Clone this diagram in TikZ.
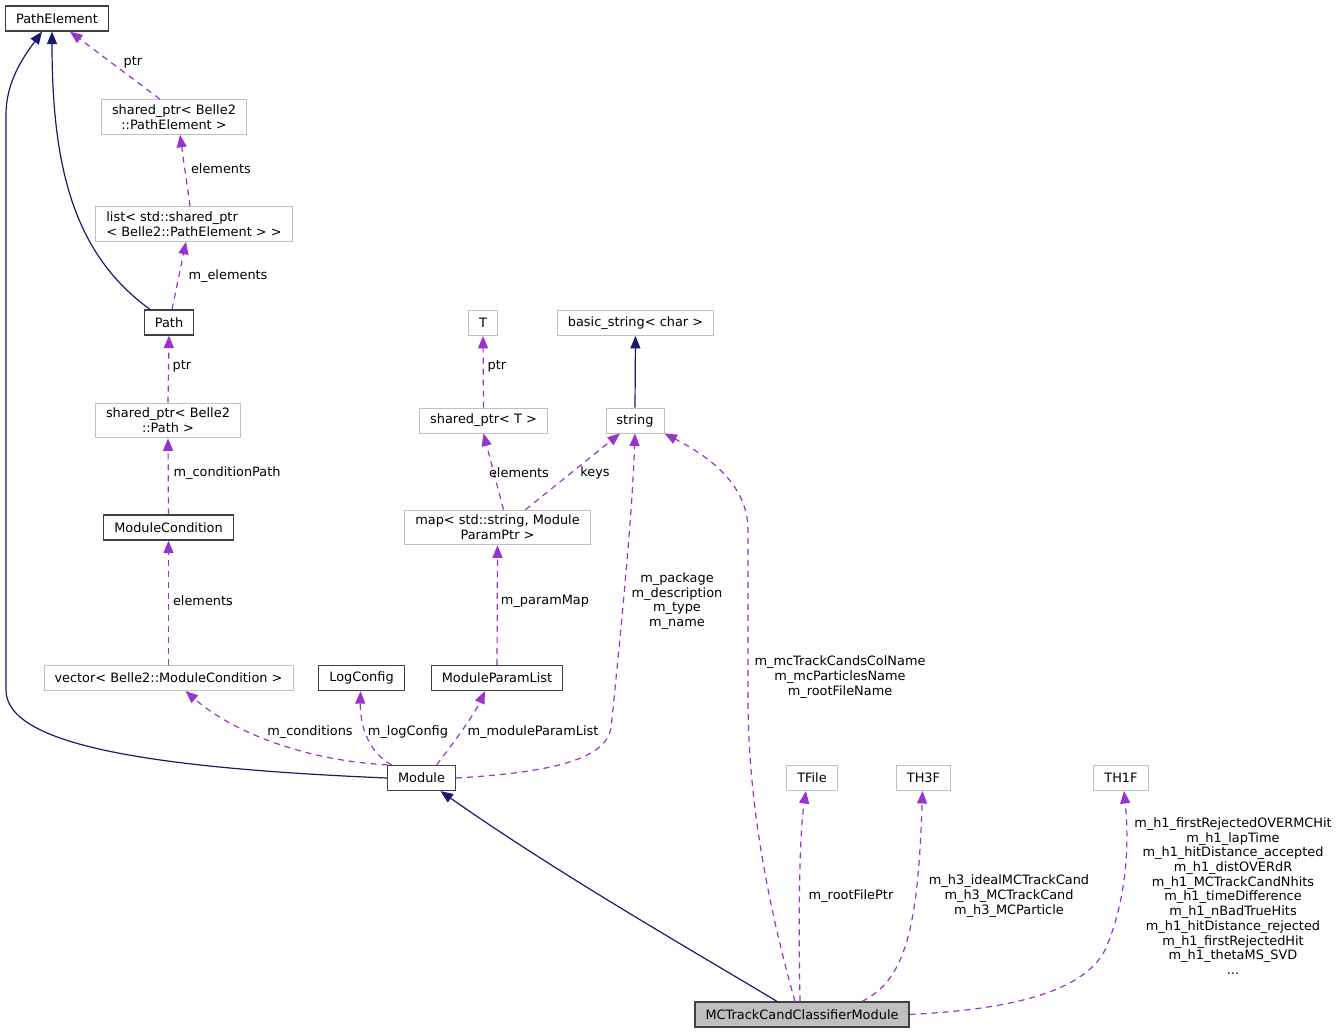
\documentclass[tikz,border=0pt]{standalone}
\usepackage{fontspec}
\setmainfont{DejaVu Sans}
\usetikzlibrary{arrows.meta}
\definecolor{inhblue}{HTML}{191970}
\definecolor{usepurple}{HTML}{9A32CD}
\definecolor{boxgray}{HTML}{BFBFBF}
\newcommand{\dfont}{\fontsize{12.9}{14.7}\selectfont}
\tikzset{
  cls/.style={draw=black!75, line width=1.2pt, fill=white, inner xsep=10.5pt, inner ysep=5pt, minimum height=25pt, align=center, font=\dfont},
  ext/.style={cls, draw=boxgray, line width=0.9pt},
  inh/.style={draw=inhblue, line width=1.2pt, -{Triangle[length=12.5pt,width=10pt]}},
  usg/.style={draw=usepurple, line width=1.2pt, dash pattern=on 6pt off 5pt, -{Triangle[length=12.5pt,width=10pt]}},
  lbl/.style={inner sep=0pt, align=center, font=\dfont}
}
\begin{document}
\begin{tikzpicture}[x=1pt,y=-1pt]
\useasboundingbox (0,0) rectangle (1340,1035);
% classes
\node[cls] (pathelem) at (57,18.5) {PathElement};
\node[ext] (spelem) at (174,117) {shared\_ptr< Belle2\\::PathElement >};
\node[ext, align=left] (elemlist) at (194,224) {list< std::shared\_ptr\\< Belle2::PathElement > >};
\node[cls] (path) at (169,322.5) {Path};
\node[ext] (sppath) at (168,420.5) {shared\_ptr< Belle2\\::Path >};
\node[cls] (modcond) at (168.5,527.5) {ModuleCondition};
\node[ext] (condvec) at (168.5,678) {vector< Belle2::ModuleCondition >};
\node[cls] (logcfg) at (361.5,678) {LogConfig};
\node[cls] (paramlist) at (497,678) {ModuleParamList};
\node[cls] (module) at (421.5,778) {Module};
\node[cls, fill=boxgray] (classifier) at (802,1014.5) {MCTrackCandClassifierModule};
\node[ext] (tparam) at (483,323) {T};
\node[ext] (basicstr) at (635.5,323) {basic\_string< char >};
\node[ext] (spt) at (483.5,420.5) {shared\_ptr< T >};
\node[ext] (str) at (635,420.5) {string};
\node[ext] (parammap) at (497.5,527.5) {map< std::string, Module\\ParamPtr >};
\node[ext] (tfile) at (812,778) {TFile};
\node[ext] (th3f) at (923.5,778) {TH3F};
\node[ext] (th1f) at (1121,778) {TH1F};
% inheritance
\draw[inh] (module.west) .. controls (150,768) and (6,745) .. (6,690) -- (6,115) .. controls (6,80) and (25,55) .. ([xshift=-15]pathelem.south);
\draw[inh] ([xshift=-19]path.north) .. controls (75,255) and (52,170) .. ([xshift=-5]pathelem.south);
\draw[inh] (str.north) -- (basicstr.south);
\draw[inh] ([xshift=-25]classifier.north) .. controls (700,955) and (560,875) .. ([xshift=19]module.south);
% usage
\draw[usg] ([xshift=-14]spelem.north) -- ([xshift=13]pathelem.south);
\draw[usg] ([xshift=-4]elemlist.north) -- ([xshift=6]spelem.south);
\draw[usg] ([xshift=3]path.north) -- ([xshift=-8]elemlist.south);
\draw[usg] (sppath.north) -- (path.south);
\draw[usg] (modcond.north) -- (sppath.south);
\draw[usg] (condvec.north) -- (modcond.south);
\draw[usg] ([xshift=-34]module.north) .. controls (300,760) and (230,730) .. ([xshift=17]condvec.south);
\draw[usg] ([xshift=-30]module.north) .. controls (365,750) and (360,720) .. ([xshift=-1]logcfg.south);
\draw[usg] ([xshift=15]module.north) .. controls (452,745) and (474,715) .. ([xshift=-12]paramlist.south);
\draw[usg] (spt.north) -- (tparam.south);
\draw[usg] ([xshift=6]parammap.north) -- (spt.south);
\draw[usg] ([xshift=28]parammap.north) -- ([xshift=-15]str.south);
\draw[usg] (paramlist.north) -- (parammap.south);
\draw[usg] (module.east) .. controls (560,772) and (606,757) .. (611,728) .. controls (620,640) and (632,520) .. (str.south);
\draw[usg] ([xshift=-7]classifier.north) .. controls (772,920) and (748,810) .. (748,700) -- (748,530) .. controls (748,480) and (700,452) .. (str.south east);
\draw[usg] ([xshift=-2]classifier.north) .. controls (798,900) and (800,830) .. ([xshift=-6]tfile.south);
\draw[usg] ([xshift=60]classifier.north) .. controls (905,980) and (918,930) .. ([xshift=-1]th3f.south);
\draw[usg] (classifier.east) .. controls (1000,1010) and (1082,995) .. (1105,950) .. controls (1125,905) and (1130,850) .. ([xshift=3]th1f.south);
% labels
\node[lbl] (lptra) at (133,62) {ptr};
\node[lbl] (lelema) at (221,169) {elements};
\node[lbl] (lmelem) at (228,276) {m\_elements};
\node[lbl] (lptrb) at (182,366) {ptr};
\node[lbl] (lcondpath) at (227,473) {m\_conditionPath};
\node[lbl] (lelemb) at (203,601) {elements};
\node[lbl] (lconds) at (310,732) {m\_conditions};
\node[lbl] (llogcfg) at (408,732) {m\_logConfig};
\node[lbl] (lmplist) at (533,732) {m\_moduleParamList};
\node[lbl] (lptrc) at (497,366) {ptr};
\node[lbl] (lelemc) at (519,473) {elements};
\node[lbl] (lkeys) at (595,473) {keys};
\node[lbl] (lpmap) at (545,601) {m\_paramMap};
\node[lbl] (lstrs) at (677,601) {m\_package\\m\_description\\m\_type\\m\_name};
\node[lbl] (lnames) at (840,677) {m\_mcTrackCandsColName\\m\_mcParticlesName\\m\_rootFileName};
\node[lbl] (lroot) at (851,896) {m\_rootFilePtr};
\node[lbl] (lhthree) at (1009,896) {m\_h3\_idealMCTrackCand\\m\_h3\_MCTrackCand\\m\_h3\_MCParticle};
\node[lbl] (lhone) at (1233,896) {m\_h1\_firstRejectedOVERMCHit\\m\_h1\_lapTime\\m\_h1\_hitDistance\_accepted\\m\_h1\_distOVERdR\\m\_h1\_MCTrackCandNhits\\m\_h1\_timeDifference\\m\_h1\_nBadTrueHits\\m\_h1\_hitDistance\_rejected\\m\_h1\_firstRejectedHit\\m\_h1\_thetaMS\_SVD\\...};
\end{tikzpicture}
\end{document}
